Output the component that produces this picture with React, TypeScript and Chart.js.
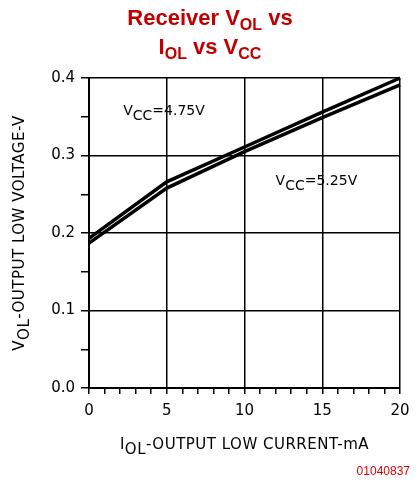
import React, { useEffect, useRef } from "react";
import { Chart, registerables } from "chart.js";

Chart.register(...registerables);

// Output low current, mA
const currentMA = [0, 5, 10, 15, 20];
// Output low voltage, V, at each supply voltage
const volVcc475 = [0.193, 0.266, 0.311, 0.356, 0.4];
const volVcc525 = [0.187, 0.258, 0.305, 0.349, 0.391];

const seriesLabels = ["4.75V", "5.25V"];
// Curve label anchors (x in mA, y in V)
const labelAnchors = [
  { x: 2.2, y: 0.359 },
  { x: 12.0, y: 0.269 },
];

const FONT = '"DejaVu Sans", sans-serif';
const INK = "#000";

type Part = { t: string; sub?: boolean };

function setSpacing(ctx: CanvasRenderingContext2D, px: number) {
  (ctx as any).letterSpacing = `${px}px`;
}

function measureParts(ctx: CanvasRenderingContext2D, parts: Part[], size: number, subSize: number) {
  let w = 0;
  for (const p of parts) {
    ctx.font = `${p.sub ? subSize : size}px ${FONT}`;
    w += ctx.measureText(p.t).width;
  }
  return w;
}

function drawParts(
  ctx: CanvasRenderingContext2D,
  parts: Part[],
  x: number,
  y: number,
  size: number,
  subSize: number,
  subShift: number,
  align: "left" | "center"
) {
  const total = measureParts(ctx, parts, size, subSize);
  let cx = align === "center" ? x - total / 2 : x;
  ctx.textAlign = "left";
  ctx.textBaseline = "alphabetic";
  for (const p of parts) {
    ctx.font = `${p.sub ? subSize : size}px ${FONT}`;
    ctx.fillText(p.t, cx, p.sub ? y + subShift : y);
    cx += ctx.measureText(p.t).width;
  }
}

const textPlugin = {
  id: "axisText",
  afterDraw(chart: any) {
    const ctx: CanvasRenderingContext2D = chart.ctx;
    const xs = chart.scales.x;
    const ys = chart.scales.y;
    ctx.save();
    ctx.fillStyle = INK;
    setSpacing(ctx, 0.5);

    // x-axis title
    drawParts(
      ctx,
      [{ t: "I" }, { t: "OL", sub: true }, { t: "-OUTPUT LOW CURRENT-mA" }],
      (chart.chartArea.left + chart.chartArea.right) / 2,
      449,
      15,
      15,
      5,
      "center"
    );

    // y-axis title
    ctx.save();
    ctx.translate(24, (chart.chartArea.top + chart.chartArea.bottom) / 2);
    ctx.rotate(-Math.PI / 2);
    drawParts(
      ctx,
      [{ t: "V" }, { t: "OL", sub: true }, { t: "-OUTPUT LOW VOLTAGE-V" }],
      0,
      0,
      15,
      15,
      5,
      "center"
    );
    ctx.restore();

    setSpacing(ctx, 0);
    // curve labels
    labelAnchors.forEach((a, i) => {
      const px = xs.getPixelForValue(a.x);
      const py = ys.getPixelForValue(a.y);
      drawParts(
        ctx,
        [{ t: "V" }, { t: "CC", sub: true }, { t: "=" + seriesLabels[i] }],
        px,
        py + 5,
        14,
        14,
        5,
        "left"
      );
    });
    ctx.restore();
  },
};

function isMajorY(v: number) {
  return Math.round(v * 100) % 10 === 0;
}

export default function App() {
  const ref = useRef<HTMLCanvasElement>(null);

  useEffect(() => {
    if (!ref.current) return;
    const chart = new Chart(ref.current, {
      type: "line",
      data: {
        datasets: [
          {
            label: "VCC=" + seriesLabels[0],
            data: currentMA.map((x, i) => ({ x, y: volVcc475[i] })),
            borderColor: INK,
            borderWidth: 3.5,
            pointRadius: 0,
            tension: 0,
            clip: 4,
          },
          {
            label: "VCC=" + seriesLabels[1],
            data: currentMA.map((x, i) => ({ x, y: volVcc525[i] })),
            borderColor: INK,
            borderWidth: 3.5,
            pointRadius: 0,
            tension: 0,
            clip: 4,
          },
        ],
      },
      options: {
        responsive: false,
        animation: false,
        layout: { padding: { left: 0, top: 78, right: 20, bottom: 0 } },
        plugins: { legend: { display: false }, tooltip: { enabled: false }, title: { display: false } },
        scales: {
          x: {
            type: "linear",
            min: 0,
            max: 20,
            afterFit: (s: any) => {
              s.height = 95;
            },
            afterBuildTicks: (s: any) => {
              s.ticks = Array.from({ length: 21 }, (_, i) => ({ value: i }));
            },
            ticks: {
              autoSkip: false,
              maxRotation: 0,
              padding: 8,
              color: INK,
              font: { family: FONT, size: 15 },
              callback: (v: any) => (Number(v) % 5 === 0 ? String(v) : ""),
            },
            grid: {
              color: (c: any) => (c.tick && c.tick.value % 5 === 0 ? INK : "rgba(0,0,0,0)"),
              tickColor: INK,
              lineWidth: 1.5,
              tickWidth: 1.5,
              tickLength: 6,
            },
            border: { display: true, color: INK, width: 2 },
          },
          y: {
            type: "linear",
            min: 0,
            max: 0.4,
            afterFit: (s: any) => {
              s.width = 89;
            },
            afterBuildTicks: (s: any) => {
              s.ticks = Array.from({ length: 9 }, (_, i) => ({ value: i * 0.05 }));
            },
            ticks: {
              autoSkip: false,
              padding: 6,
              color: INK,
              font: { family: FONT, size: 15 },
              callback: (v: any) => (isMajorY(Number(v)) ? Number(v).toFixed(1) : ""),
            },
            grid: {
              color: (c: any) => (c.tick && isMajorY(c.tick.value) ? INK : "rgba(0,0,0,0)"),
              tickColor: INK,
              lineWidth: 1.5,
              tickWidth: 1.5,
              tickLength: 8,
            },
            border: { display: true, color: INK, width: 2 },
          },
        },
      },
      plugins: [textPlugin],
    } as any);
    return () => chart.destroy();
  }, []);

  const titleStyle: React.CSSProperties = {
    position: "absolute",
    left: 0,
    top: 3,
    width: 420,
    textAlign: "center",
    color: "#c00000",
    fontFamily: '"Liberation Sans", Arial, sans-serif',
    fontWeight: "bold",
    fontSize: 22,
    lineHeight: "29px",
  };
  const subStyle: React.CSSProperties = { fontSize: 16, verticalAlign: "-5px", lineHeight: 0 };

  return (
    <div style={{ position: "absolute", left: 0, top: 0, width: 420, height: 483, background: "#fff" }}>
      <canvas ref={ref} width={420} height={483} style={{ position: "absolute", left: 0, top: 0 }} />
      <div style={titleStyle}>
        Receiver V<span style={subStyle}>OL</span> vs
        <br />
        I<span style={subStyle}>OL</span> vs V<span style={subStyle}>CC</span>
      </div>
      <div
        style={{
          position: "absolute",
          right: 10,
          top: 464,
          color: "#e00000",
          fontFamily: '"Liberation Sans", Arial, sans-serif',
          fontSize: 12,
        }}
      >
        01040837
      </div>
    </div>
  );
}
